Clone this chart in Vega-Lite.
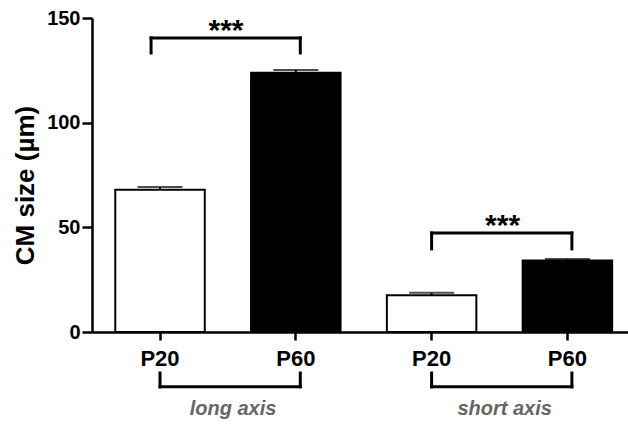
{
  "$schema": "https://vega.github.io/schema/vega-lite/v6.json",
  "autosize": {"type": "none"},
  "width": 536,
  "height": 314,
  "padding": {"left": 92, "top": 18, "right": 0, "bottom": 95},
  "background": "white",
  "config": {
    "view": {"stroke": null},
    "font": "Liberation Sans",
    "text": {"font": "Liberation Sans"},
    "axis": {"grid": false, "domainColor": "black", "tickColor": "black", "labelColor": "black", "titleColor": "black", "labelFont": "Liberation Sans", "titleFont": "Liberation Sans", "labelFontWeight": "bold", "titleFontWeight": "bold"}
  },
  "datasets": {
    "bars": [
      {"cat": "L P20", "age": "P20", "mean": 68.0, "upper": 69.3},
      {"cat": "L P60", "age": "P60", "mean": 123.8, "upper": 125.2},
      {"cat": "S P20", "age": "P20", "mean": 17.6, "upper": 18.7},
      {"cat": "S P60", "age": "P60", "mean": 34.1, "upper": 34.9}
    ],
    "sigL": [
      {"c1": "L P20", "c2": "L P60", "top": 140.5, "bot": 133.3, "star": 139.5, "label": "***"}
    ],
    "sigS": [
      {"c1": "S P20", "c2": "S P60", "top": 47.3, "bot": 39.7, "star": 46.3, "label": "***"}
    ],
    "groups": [
      {"c1": "L P20", "c2": "L P60", "top": -19.6, "bot": -26.2, "pos": -36.7, "label": "long axis"},
      {"c1": "S P20", "c2": "S P60", "top": -19.6, "bot": -26.2, "pos": -36.7, "label": "short axis"}
    ]
  },
  "layer": [
    {
      "data": {"name": "bars"},
      "mark": {"type": "bar", "stroke": "black", "strokeWidth": 2},
      "encoding": {
        "x": {"field": "cat", "type": "nominal", "sort": null,
          "scale": {"domain": ["L P20", "L P60", "S P20", "S P60"], "paddingInner": 0.341, "paddingOuter": 0.144, "align": 0.595},
          "axis": {"title": null, "labelAngle": 0, "labelExpr": "slice(datum.label, 2)", "labelFontSize": 22, "labelPadding": 8, "tickSize": 8, "tickWidth": 2.5, "domainWidth": 2.5}},
        "y": {"field": "mean", "type": "quantitative",
          "scale": {"domain": [0, 150], "nice": false, "zero": true},
          "axis": {"values": [0, 50, 100, 150], "title": "CM size (µm)", "titleFontSize": 26, "titleX": -59, "titleY": 167, "titleBaseline": "alphabetic", "labelFontSize": 20, "labelPadding": 2, "tickSize": 10, "tickWidth": 2.5, "domainWidth": 2.5}},
        "fill": {"field": "age", "type": "nominal", "scale": {"domain": ["P20", "P60"], "range": ["white", "black"]}, "legend": null}
      }
    },
    {
      "data": {"name": "bars"},
      "mark": {"type": "rule", "color": "black", "strokeWidth": 2},
      "encoding": {
        "x": {"field": "cat", "type": "nominal"},
        "y": {"field": "mean", "type": "quantitative"},
        "y2": {"field": "upper"}
      }
    },
    {
      "data": {"name": "bars"},
      "mark": {"type": "tick", "color": "black", "size": 45, "thickness": 2},
      "encoding": {
        "x": {"field": "cat", "type": "nominal"},
        "y": {"field": "upper", "type": "quantitative"}
      }
    },
    {
      "data": {"name": "sigL"},
      "mark": {"type": "rule", "color": "black", "strokeWidth": 3, "strokeCap": "square"},
      "encoding": {
        "x": {"field": "c1", "type": "nominal", "bandPosition": 0.4},
        "x2": {"field": "c2", "bandPosition": 0.55},
        "y": {"field": "top", "type": "quantitative"}
      }
    },
    {
      "data": {"name": "sigL"},
      "mark": {"type": "rule", "color": "black", "strokeWidth": 3, "strokeCap": "square"},
      "encoding": {
        "x": {"field": "c1", "type": "nominal", "bandPosition": 0.4},
        "y": {"field": "top", "type": "quantitative"},
        "y2": {"field": "bot"}
      }
    },
    {
      "data": {"name": "sigL"},
      "mark": {"type": "rule", "color": "black", "strokeWidth": 3, "strokeCap": "square"},
      "encoding": {
        "x": {"field": "c2", "type": "nominal", "bandPosition": 0.55},
        "y": {"field": "top", "type": "quantitative"},
        "y2": {"field": "bot"}
      }
    },
    {
      "data": {"name": "sigL"},
      "mark": {"type": "text", "color": "black", "font": "Liberation Sans", "fontSize": 30, "fontWeight": "bold", "baseline": "alphabetic", "align": "center", "dx": 66},
      "encoding": {
        "x": {"field": "c1", "type": "nominal"},
        "y": {"field": "star", "type": "quantitative"},
        "text": {"field": "label"}
      }
    },
    {
      "data": {"name": "sigS"},
      "mark": {"type": "rule", "color": "black", "strokeWidth": 3, "strokeCap": "square"},
      "encoding": {
        "x": {"field": "c1", "type": "nominal"},
        "x2": {"field": "c2", "bandPosition": 0.55},
        "y": {"field": "top", "type": "quantitative"}
      }
    },
    {
      "data": {"name": "sigS"},
      "mark": {"type": "rule", "color": "black", "strokeWidth": 3, "strokeCap": "square"},
      "encoding": {
        "x": {"field": "c1", "type": "nominal"},
        "y": {"field": "top", "type": "quantitative"},
        "y2": {"field": "bot"}
      }
    },
    {
      "data": {"name": "sigS"},
      "mark": {"type": "rule", "color": "black", "strokeWidth": 3, "strokeCap": "square"},
      "encoding": {
        "x": {"field": "c2", "type": "nominal", "bandPosition": 0.55},
        "y": {"field": "top", "type": "quantitative"},
        "y2": {"field": "bot"}
      }
    },
    {
      "data": {"name": "sigS"},
      "mark": {"type": "text", "color": "black", "font": "Liberation Sans", "fontSize": 30, "fontWeight": "bold", "baseline": "alphabetic", "align": "center", "dx": 71},
      "encoding": {
        "x": {"field": "c1", "type": "nominal"},
        "y": {"field": "star", "type": "quantitative"},
        "text": {"field": "label"}
      }
    },
    {
      "data": {"name": "groups"},
      "mark": {"type": "rule", "color": "black", "strokeWidth": 3, "strokeCap": "square"},
      "encoding": {
        "x": {"field": "c1", "type": "nominal"},
        "x2": {"field": "c2", "bandPosition": 0.55},
        "y": {"field": "bot", "type": "quantitative"}
      }
    },
    {
      "data": {"name": "groups"},
      "mark": {"type": "rule", "color": "black", "strokeWidth": 3, "strokeCap": "square"},
      "encoding": {
        "x": {"field": "c1", "type": "nominal"},
        "y": {"field": "top", "type": "quantitative"},
        "y2": {"field": "bot"}
      }
    },
    {
      "data": {"name": "groups"},
      "mark": {"type": "rule", "color": "black", "strokeWidth": 3, "strokeCap": "square"},
      "encoding": {
        "x": {"field": "c2", "type": "nominal", "bandPosition": 0.55},
        "y": {"field": "top", "type": "quantitative"},
        "y2": {"field": "bot"}
      }
    },
    {
      "data": {"name": "groups"},
      "mark": {"type": "text", "color": "#666666", "font": "Liberation Sans", "fontSize": 20, "fontWeight": "bold", "fontStyle": "italic", "baseline": "middle", "align": "center", "dx": 73},
      "encoding": {
        "x": {"field": "c1", "type": "nominal"},
        "y": {"field": "pos", "type": "quantitative"},
        "text": {"field": "label"}
      }
    }
  ]
}
